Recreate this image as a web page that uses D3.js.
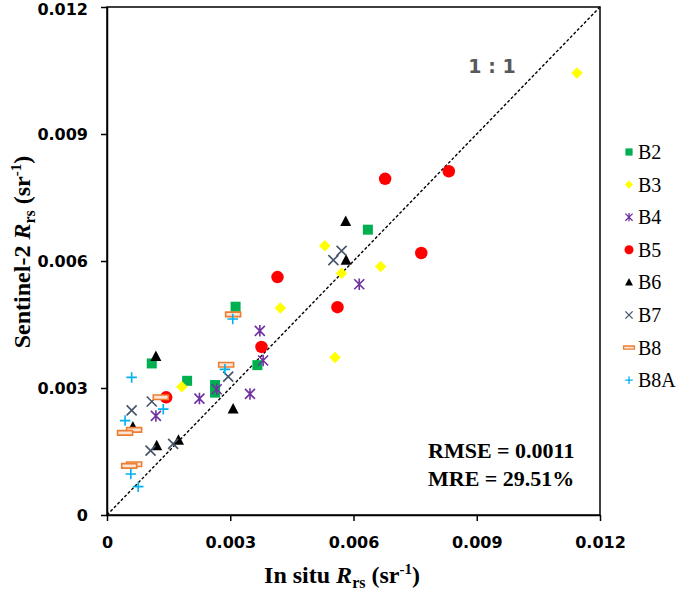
<!DOCTYPE html>
<html>
<head>
<meta charset="utf-8">
<script src="https://cdn.jsdelivr.net/npm/d3@7"></script>
<style>
  html, body { margin: 0; padding: 0; background: #fff; }
  svg { display: block; }
</style>
</head>
<body>
<svg id="chart" width="685" height="595"></svg>
<script>
// ---- data (In situ Rrs, Sentinel-2 Rrs) ----
const bands = ["B2", "B3", "B4", "B5", "B6", "B7", "B8", "B8A"];
const b2x  = [0.00109, 0.00195, 0.00263, 0.00263, 0.00366, 0.00313, 0.00635];
const b2y  = [0.00358, 0.00317, 0.00307, 0.00289, 0.00354, 0.00492, 0.00674];
const b3x  = [0.00182, 0.00422, 0.00530, 0.00571, 0.00666, 0.00555, 0.01144];
const b3y  = [0.00303, 0.00489, 0.00636, 0.00571, 0.00587, 0.00372, 0.01044];
const b4x  = [0.00119, 0.00225, 0.00267, 0.00348, 0.00380, 0.00372, 0.00614];
const b4y  = [0.00234, 0.00275, 0.00297, 0.00286, 0.00365, 0.00435, 0.00545];
const b5x  = [0.00144, 0.00376, 0.00415, 0.00561, 0.00677, 0.00832, 0.00765];
const b5y  = [0.00278, 0.00397, 0.00562, 0.00491, 0.00794, 0.00812, 0.00619];
const b6x  = [0.00119, 0.00063, 0.00121, 0.00174, 0.00307, 0.00581, 0.00582];
const b6y  = [0.00374, 0.00207, 0.00163, 0.00176, 0.00250, 0.00693, 0.00601];
const b7x  = [0.00060, 0.00109, 0.00106, 0.00161, 0.00295, 0.00551, 0.00571];
const b7y  = [0.00247, 0.00268, 0.00152, 0.00168, 0.00327, 0.00602, 0.00624];
const b8x  = [0.00131, 0.00066, 0.00044, 0.00066, 0.00054, 0.00290, 0.00307];
const b8y  = [0.00278, 0.00201, 0.00194, 0.00120, 0.00116, 0.00355, 0.00474];
const b8ax = [0.00060, 0.00137, 0.00044, 0.00058, 0.00076, 0.00287, 0.00306];
const b8ay = [0.00325, 0.00250, 0.00223, 0.00097, 0.00067, 0.00344, 0.00463];
const tickValues = [0, 0.003, 0.006, 0.009, 0.012];
const tickLabels = ["0", "0.003", "0.006", "0.009", "0.012"];
const statLines = ["RMSE = 0.0011", "MRE = 29.51%"];

const seriesX = [b2x, b3x, b4x, b5x, b6x, b7x, b8x, b8ax];
const seriesY = [b2y, b3y, b4y, b5y, b6y, b7y, b8y, b8ay];

// ---- styles ----
const styles = {
  B2:  {kind: "square",   fill: "#00B050", stroke: "none"},
  B3:  {kind: "diamond",  fill: "#FFFF00", stroke: "none"},
  B4:  {kind: "asterisk", fill: "none",    stroke: "#7030A0"},
  B5:  {kind: "circle",   fill: "#FF0000", stroke: "none"},
  B6:  {kind: "triangle", fill: "#000000", stroke: "none"},
  B7:  {kind: "x",        fill: "none",    stroke: "#44546A"},
  B8:  {kind: "bar",      fill: "#FBE5D6", stroke: "#ED7D31"},
  B8A: {kind: "plus",     fill: "none",    stroke: "#00B0F0"}
};

function markerPath(kind, s) {
  switch (kind) {
    case "square":   return `M${-s},${-s}H${s}V${s}H${-s}Z`;
    case "diamond":  return `M0,${-s*1.15}L${s*1.15},0L0,${s*1.15}L${-s*1.15},0Z`;
    case "circle":   return d3.symbol(d3.symbolCircle, Math.PI * (s*1.25) * (s*1.25))();
    case "triangle": return `M0,${-s*1.25}L${s*1.1},${s*0.85}L${-s*1.1},${s*0.85}Z`;
    case "x":        return `M${-s},${-s}L${s},${s}M${-s},${s}L${s},${-s}`;
    case "asterisk": return `M${-s},${-s}L${s},${s}M${-s},${s}L${s},${-s}M0,${-s*1.15}L0,${s*1.15}`;
    case "plus":     return `M${-s*1.05},0H${s*1.05}M0,${-s*1.05}V${s*1.05}`;
    case "bar":      return `M${-s*1.5},${-s*0.45}H${s*1.5}V${s*0.45}H${-s*1.5}Z`;
  }
}

const svg = d3.select("#chart");
const mLeft = 107, mRight = 600, mTop = 7, mBottom = 515;
const x = d3.scaleLinear().domain([0, 0.012]).range([mLeft, mRight]);
const y = d3.scaleLinear().domain([0, 0.012]).range([mBottom, mTop]);

const tickFont = "'DejaVu Sans', Verdana, sans-serif";
const serif = "'Liberation Serif', 'Times New Roman', serif";

// frame
svg.append("rect")
  .attr("x", mLeft).attr("y", mTop)
  .attr("width", mRight - mLeft).attr("height", mBottom - mTop)
  .attr("fill", "none").attr("stroke", "#000").attr("stroke-width", 1.5);

// axes
const xAxis = d3.axisBottom(x).tickValues(tickValues)
  .tickFormat((d, i) => tickLabels[i]).tickSizeOuter(0).tickSizeInner(6).tickPadding(16);
const yAxis = d3.axisLeft(y).tickValues(tickValues)
  .tickFormat((d, i) => tickLabels[i]).tickSizeOuter(0).tickSizeInner(6).tickPadding(13);

const gx = svg.append("g").attr("transform", `translate(0,${mBottom})`).call(xAxis);
const gy = svg.append("g").attr("transform", `translate(${mLeft},0)`).call(yAxis);
[gx, gy].forEach(g => {
  g.select(".domain").attr("stroke", "#000").attr("stroke-width", 1.5);
  g.selectAll(".tick line").attr("stroke", "#000").attr("stroke-width", 1.5);
  g.selectAll(".tick text")
    .attr("fill", "#000")
    .style("font-family", tickFont)
    .style("font-weight", "bold")
    .style("font-size", "16px");
});
gy.selectAll(".tick text").attr("dy", (d) => d === 0.012 ? "0.45em" : "0.36em");

// 1:1 line
svg.append("line")
  .attr("x1", x(0)).attr("y1", y(0))
  .attr("x2", x(0.012)).attr("y2", y(0.012))
  .attr("stroke", "#000").attr("stroke-width", 1.4)
  .attr("stroke-dasharray", "3,2");

svg.append("text")
  .attr("x", 492).attr("y", 73)
  .attr("text-anchor", "middle")
  .style("font-family", tickFont).style("font-weight", "bold")
  .style("font-size", "19px").attr("fill", "#595959")
  .text("1 : 1");

// points
const gPts = svg.append("g");
bands.forEach((b, i) => {
  const st = styles[b];
  const pts = seriesX[i].map((vx, j) => [vx, seriesY[i][j]]);
  gPts.append("g").selectAll("path").data(pts).join("path")
    .attr("transform", d => `translate(${x(d[0])},${y(d[1])})`)
    .attr("d", markerPath(st.kind, 5))
    .attr("fill", st.fill)
    .attr("stroke", st.stroke)
    .attr("stroke-width", 1.6);
});

// legend
const legend = svg.append("g");
bands.forEach((b, i) => {
  const st = styles[b];
  const cy = 152 + i * 32.6;
  legend.append("path")
    .attr("transform", `translate(629,${cy})`)
    .attr("d", markerPath(st.kind, 3.6))
    .attr("fill", st.fill).attr("stroke", st.stroke).attr("stroke-width", 1.3);
  legend.append("text")
    .attr("x", 638).attr("y", cy + 7)
    .style("font-family", serif).style("font-size", "20px")
    .attr("fill", "#000")
    .text(b);
});

// stats
const stats = svg.append("g")
  .style("font-family", serif).style("font-weight", "bold").style("font-size", "22px");
stats.append("text").attr("x", 428).attr("y", 458).text(statLines[0]);
stats.append("text").attr("x", 428).attr("y", 486).text(statLines[1]);

// axis titles
const xt = svg.append("text")
  .attr("x", 342).attr("y", 583)
  .attr("text-anchor", "middle")
  .style("font-family", serif).style("font-weight", "bold").style("font-size", "24px");
xt.append("tspan").text("In situ ");
xt.append("tspan").style("font-style", "italic").text("R");
xt.append("tspan").attr("dy", 5).style("font-size", "16px").text("rs");
xt.append("tspan").attr("dy", -5).text(" (sr");
xt.append("tspan").attr("dy", -9).style("font-size", "15px").text("-1");
xt.append("tspan").attr("dy", 9).text(")");

const yt = svg.append("text")
  .attr("transform", "translate(30,252) rotate(-90)")
  .attr("text-anchor", "middle")
  .style("font-family", serif).style("font-weight", "bold").style("font-size", "24px");
yt.append("tspan").text("Sentinel-2 ");
yt.append("tspan").style("font-style", "italic").text("R");
yt.append("tspan").attr("dy", 5).style("font-size", "16px").text("rs");
yt.append("tspan").attr("dy", -5).text(" (sr");
yt.append("tspan").attr("dy", -9).style("font-size", "15px").text("-1");
yt.append("tspan").attr("dy", 9).text(")");
</script>
</body>
</html>
